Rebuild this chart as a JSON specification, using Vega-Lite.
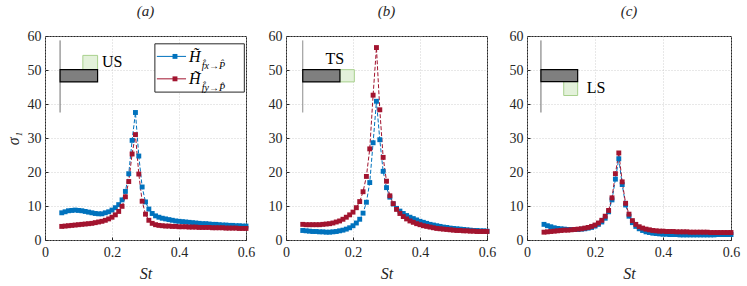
{
  "$schema": "https://vega.github.io/schema/vega-lite/v6.json",
  "padding": {"left": 4, "top": 3, "right": 8, "bottom": 2},
  "bounds": "flush",
  "spacing": 40,
  "datasets": {
    "curves": [
      {"panel":"a","series":"fx","St":0.05,"sigma":8.0},{"panel":"a","series":"fx","St":0.06,"sigma":8.3},{"panel":"a","series":"fx","St":0.07,"sigma":8.6},{"panel":"a","series":"fx","St":0.08,"sigma":8.7},{"panel":"a","series":"fx","St":0.09,"sigma":8.8},{"panel":"a","series":"fx","St":0.10,"sigma":8.7},{"panel":"a","series":"fx","St":0.11,"sigma":8.6},{"panel":"a","series":"fx","St":0.12,"sigma":8.4},{"panel":"a","series":"fx","St":0.13,"sigma":8.2},{"panel":"a","series":"fx","St":0.14,"sigma":8.0},{"panel":"a","series":"fx","St":0.15,"sigma":7.8},{"panel":"a","series":"fx","St":0.16,"sigma":7.7},{"panel":"a","series":"fx","St":0.17,"sigma":7.7},{"panel":"a","series":"fx","St":0.18,"sigma":8.0},{"panel":"a","series":"fx","St":0.19,"sigma":8.3},{"panel":"a","series":"fx","St":0.20,"sigma":8.8},{"panel":"a","series":"fx","St":0.21,"sigma":9.5},{"panel":"a","series":"fx","St":0.22,"sigma":10.4},{"panel":"a","series":"fx","St":0.23,"sigma":11.8},{"panel":"a","series":"fx","St":0.24,"sigma":14.3},{"panel":"a","series":"fx","St":0.25,"sigma":19.5},{"panel":"a","series":"fx","St":0.26,"sigma":29.3},{"panel":"a","series":"fx","St":0.27,"sigma":37.5},{"panel":"a","series":"fx","St":0.28,"sigma":24.7},{"panel":"a","series":"fx","St":0.29,"sigma":15.6},{"panel":"a","series":"fx","St":0.30,"sigma":11.2},{"panel":"a","series":"fx","St":0.31,"sigma":9.1},{"panel":"a","series":"fx","St":0.32,"sigma":7.8},{"panel":"a","series":"fx","St":0.33,"sigma":7.1},{"panel":"a","series":"fx","St":0.34,"sigma":6.7},{"panel":"a","series":"fx","St":0.35,"sigma":6.4},{"panel":"a","series":"fx","St":0.36,"sigma":6.2},{"panel":"a","series":"fx","St":0.37,"sigma":6.0},{"panel":"a","series":"fx","St":0.38,"sigma":5.8},{"panel":"a","series":"fx","St":0.39,"sigma":5.6},{"panel":"a","series":"fx","St":0.40,"sigma":5.5},{"panel":"a","series":"fx","St":0.41,"sigma":5.4},{"panel":"a","series":"fx","St":0.42,"sigma":5.3},{"panel":"a","series":"fx","St":0.43,"sigma":5.2},{"panel":"a","series":"fx","St":0.44,"sigma":5.1},{"panel":"a","series":"fx","St":0.45,"sigma":5.0},{"panel":"a","series":"fx","St":0.46,"sigma":4.9},{"panel":"a","series":"fx","St":0.47,"sigma":4.8},{"panel":"a","series":"fx","St":0.48,"sigma":4.8},{"panel":"a","series":"fx","St":0.49,"sigma":4.7},{"panel":"a","series":"fx","St":0.50,"sigma":4.6},{"panel":"a","series":"fx","St":0.51,"sigma":4.6},{"panel":"a","series":"fx","St":0.52,"sigma":4.5},{"panel":"a","series":"fx","St":0.53,"sigma":4.4},{"panel":"a","series":"fx","St":0.54,"sigma":4.4},{"panel":"a","series":"fx","St":0.55,"sigma":4.3},{"panel":"a","series":"fx","St":0.56,"sigma":4.3},{"panel":"a","series":"fx","St":0.57,"sigma":4.2},{"panel":"a","series":"fx","St":0.58,"sigma":4.2},{"panel":"a","series":"fx","St":0.59,"sigma":4.1},{"panel":"a","series":"fx","St":0.60,"sigma":4.1},
      {"panel":"a","series":"fy","St":0.05,"sigma":4.0},{"panel":"a","series":"fy","St":0.06,"sigma":4.1},{"panel":"a","series":"fy","St":0.07,"sigma":4.2},{"panel":"a","series":"fy","St":0.08,"sigma":4.3},{"panel":"a","series":"fy","St":0.09,"sigma":4.4},{"panel":"a","series":"fy","St":0.10,"sigma":4.5},{"panel":"a","series":"fy","St":0.11,"sigma":4.6},{"panel":"a","series":"fy","St":0.12,"sigma":4.7},{"panel":"a","series":"fy","St":0.13,"sigma":4.8},{"panel":"a","series":"fy","St":0.14,"sigma":4.9},{"panel":"a","series":"fy","St":0.15,"sigma":5.1},{"panel":"a","series":"fy","St":0.16,"sigma":5.3},{"panel":"a","series":"fy","St":0.17,"sigma":5.5},{"panel":"a","series":"fy","St":0.18,"sigma":5.8},{"panel":"a","series":"fy","St":0.19,"sigma":6.2},{"panel":"a","series":"fy","St":0.20,"sigma":6.7},{"panel":"a","series":"fy","St":0.21,"sigma":7.4},{"panel":"a","series":"fy","St":0.22,"sigma":8.4},{"panel":"a","series":"fy","St":0.23,"sigma":9.9},{"panel":"a","series":"fy","St":0.24,"sigma":12.7},{"panel":"a","series":"fy","St":0.25,"sigma":17.2},{"panel":"a","series":"fy","St":0.26,"sigma":25.3},{"panel":"a","series":"fy","St":0.27,"sigma":31.0},{"panel":"a","series":"fy","St":0.28,"sigma":19.4},{"panel":"a","series":"fy","St":0.29,"sigma":11.4},{"panel":"a","series":"fy","St":0.30,"sigma":7.6},{"panel":"a","series":"fy","St":0.31,"sigma":5.8},{"panel":"a","series":"fy","St":0.32,"sigma":4.9},{"panel":"a","series":"fy","St":0.33,"sigma":4.5},{"panel":"a","series":"fy","St":0.34,"sigma":4.3},{"panel":"a","series":"fy","St":0.35,"sigma":4.2},{"panel":"a","series":"fy","St":0.36,"sigma":4.1},{"panel":"a","series":"fy","St":0.37,"sigma":4.1},{"panel":"a","series":"fy","St":0.38,"sigma":4.0},{"panel":"a","series":"fy","St":0.39,"sigma":4.0},{"panel":"a","series":"fy","St":0.40,"sigma":3.9},{"panel":"a","series":"fy","St":0.41,"sigma":3.9},{"panel":"a","series":"fy","St":0.42,"sigma":3.9},{"panel":"a","series":"fy","St":0.43,"sigma":3.8},{"panel":"a","series":"fy","St":0.44,"sigma":3.8},{"panel":"a","series":"fy","St":0.45,"sigma":3.8},{"panel":"a","series":"fy","St":0.46,"sigma":3.7},{"panel":"a","series":"fy","St":0.47,"sigma":3.7},{"panel":"a","series":"fy","St":0.48,"sigma":3.7},{"panel":"a","series":"fy","St":0.49,"sigma":3.7},{"panel":"a","series":"fy","St":0.50,"sigma":3.6},{"panel":"a","series":"fy","St":0.51,"sigma":3.6},{"panel":"a","series":"fy","St":0.52,"sigma":3.6},{"panel":"a","series":"fy","St":0.53,"sigma":3.6},{"panel":"a","series":"fy","St":0.54,"sigma":3.5},{"panel":"a","series":"fy","St":0.55,"sigma":3.5},{"panel":"a","series":"fy","St":0.56,"sigma":3.5},{"panel":"a","series":"fy","St":0.57,"sigma":3.5},{"panel":"a","series":"fy","St":0.58,"sigma":3.4},{"panel":"a","series":"fy","St":0.59,"sigma":3.4},{"panel":"a","series":"fy","St":0.60,"sigma":3.4},
      {"panel":"b","series":"fx","St":0.05,"sigma":2.8},{"panel":"b","series":"fx","St":0.06,"sigma":2.7},{"panel":"b","series":"fx","St":0.07,"sigma":2.6},{"panel":"b","series":"fx","St":0.08,"sigma":2.5},{"panel":"b","series":"fx","St":0.09,"sigma":2.5},{"panel":"b","series":"fx","St":0.10,"sigma":2.4},{"panel":"b","series":"fx","St":0.11,"sigma":2.4},{"panel":"b","series":"fx","St":0.12,"sigma":2.3},{"panel":"b","series":"fx","St":0.13,"sigma":2.3},{"panel":"b","series":"fx","St":0.14,"sigma":2.4},{"panel":"b","series":"fx","St":0.15,"sigma":2.5},{"panel":"b","series":"fx","St":0.16,"sigma":2.7},{"panel":"b","series":"fx","St":0.17,"sigma":2.9},{"panel":"b","series":"fx","St":0.18,"sigma":3.2},{"panel":"b","series":"fx","St":0.19,"sigma":3.6},{"panel":"b","series":"fx","St":0.20,"sigma":4.2},{"panel":"b","series":"fx","St":0.21,"sigma":5.0},{"panel":"b","series":"fx","St":0.22,"sigma":6.1},{"panel":"b","series":"fx","St":0.23,"sigma":7.9},{"panel":"b","series":"fx","St":0.24,"sigma":11.1},{"panel":"b","series":"fx","St":0.25,"sigma":16.9},{"panel":"b","series":"fx","St":0.26,"sigma":28.6},{"panel":"b","series":"fx","St":0.27,"sigma":40.8},{"panel":"b","series":"fx","St":0.28,"sigma":29.5},{"panel":"b","series":"fx","St":0.29,"sigma":20.2},{"panel":"b","series":"fx","St":0.30,"sigma":15.4},{"panel":"b","series":"fx","St":0.31,"sigma":12.6},{"panel":"b","series":"fx","St":0.32,"sigma":10.6},{"panel":"b","series":"fx","St":0.33,"sigma":9.3},{"panel":"b","series":"fx","St":0.34,"sigma":8.5},{"panel":"b","series":"fx","St":0.35,"sigma":7.8},{"panel":"b","series":"fx","St":0.36,"sigma":7.2},{"panel":"b","series":"fx","St":0.37,"sigma":6.7},{"panel":"b","series":"fx","St":0.38,"sigma":6.3},{"panel":"b","series":"fx","St":0.39,"sigma":5.9},{"panel":"b","series":"fx","St":0.40,"sigma":5.5},{"panel":"b","series":"fx","St":0.41,"sigma":5.2},{"panel":"b","series":"fx","St":0.42,"sigma":4.9},{"panel":"b","series":"fx","St":0.43,"sigma":4.6},{"panel":"b","series":"fx","St":0.44,"sigma":4.4},{"panel":"b","series":"fx","St":0.45,"sigma":4.2},{"panel":"b","series":"fx","St":0.46,"sigma":4.0},{"panel":"b","series":"fx","St":0.47,"sigma":3.8},{"panel":"b","series":"fx","St":0.48,"sigma":3.7},{"panel":"b","series":"fx","St":0.49,"sigma":3.5},{"panel":"b","series":"fx","St":0.50,"sigma":3.4},{"panel":"b","series":"fx","St":0.51,"sigma":3.3},{"panel":"b","series":"fx","St":0.52,"sigma":3.2},{"panel":"b","series":"fx","St":0.53,"sigma":3.1},{"panel":"b","series":"fx","St":0.54,"sigma":3.0},{"panel":"b","series":"fx","St":0.55,"sigma":2.9},{"panel":"b","series":"fx","St":0.56,"sigma":2.8},{"panel":"b","series":"fx","St":0.57,"sigma":2.8},{"panel":"b","series":"fx","St":0.58,"sigma":2.7},{"panel":"b","series":"fx","St":0.59,"sigma":2.7},{"panel":"b","series":"fx","St":0.60,"sigma":2.6},
      {"panel":"b","series":"fy","St":0.05,"sigma":4.6},{"panel":"b","series":"fy","St":0.06,"sigma":4.5},{"panel":"b","series":"fy","St":0.07,"sigma":4.5},{"panel":"b","series":"fy","St":0.08,"sigma":4.5},{"panel":"b","series":"fy","St":0.09,"sigma":4.5},{"panel":"b","series":"fy","St":0.10,"sigma":4.5},{"panel":"b","series":"fy","St":0.11,"sigma":4.6},{"panel":"b","series":"fy","St":0.12,"sigma":4.7},{"panel":"b","series":"fy","St":0.13,"sigma":4.8},{"panel":"b","series":"fy","St":0.14,"sigma":5.0},{"panel":"b","series":"fy","St":0.15,"sigma":5.3},{"panel":"b","series":"fy","St":0.16,"sigma":5.6},{"panel":"b","series":"fy","St":0.17,"sigma":6.1},{"panel":"b","series":"fy","St":0.18,"sigma":6.7},{"panel":"b","series":"fy","St":0.19,"sigma":7.4},{"panel":"b","series":"fy","St":0.20,"sigma":8.2},{"panel":"b","series":"fy","St":0.21,"sigma":9.5},{"panel":"b","series":"fy","St":0.22,"sigma":11.3},{"panel":"b","series":"fy","St":0.23,"sigma":14.2},{"panel":"b","series":"fy","St":0.24,"sigma":18.7},{"panel":"b","series":"fy","St":0.25,"sigma":26.8},{"panel":"b","series":"fy","St":0.26,"sigma":42.6},{"panel":"b","series":"fy","St":0.27,"sigma":56.6},{"panel":"b","series":"fy","St":0.28,"sigma":38.3},{"panel":"b","series":"fy","St":0.29,"sigma":24.3},{"panel":"b","series":"fy","St":0.30,"sigma":17.3},{"panel":"b","series":"fy","St":0.31,"sigma":13.0},{"panel":"b","series":"fy","St":0.32,"sigma":10.7},{"panel":"b","series":"fy","St":0.33,"sigma":9.0},{"panel":"b","series":"fy","St":0.34,"sigma":7.8},{"panel":"b","series":"fy","St":0.35,"sigma":6.9},{"panel":"b","series":"fy","St":0.36,"sigma":6.2},{"panel":"b","series":"fy","St":0.37,"sigma":5.6},{"panel":"b","series":"fy","St":0.38,"sigma":5.2},{"panel":"b","series":"fy","St":0.39,"sigma":4.8},{"panel":"b","series":"fy","St":0.40,"sigma":4.5},{"panel":"b","series":"fy","St":0.41,"sigma":4.2},{"panel":"b","series":"fy","St":0.42,"sigma":4.0},{"panel":"b","series":"fy","St":0.43,"sigma":3.8},{"panel":"b","series":"fy","St":0.44,"sigma":3.6},{"panel":"b","series":"fy","St":0.45,"sigma":3.4},{"panel":"b","series":"fy","St":0.46,"sigma":3.3},{"panel":"b","series":"fy","St":0.47,"sigma":3.2},{"panel":"b","series":"fy","St":0.48,"sigma":3.1},{"panel":"b","series":"fy","St":0.49,"sigma":3.0},{"panel":"b","series":"fy","St":0.50,"sigma":2.9},{"panel":"b","series":"fy","St":0.51,"sigma":2.8},{"panel":"b","series":"fy","St":0.52,"sigma":2.8},{"panel":"b","series":"fy","St":0.53,"sigma":2.7},{"panel":"b","series":"fy","St":0.54,"sigma":2.7},{"panel":"b","series":"fy","St":0.55,"sigma":2.6},{"panel":"b","series":"fy","St":0.56,"sigma":2.6},{"panel":"b","series":"fy","St":0.57,"sigma":2.5},{"panel":"b","series":"fy","St":0.58,"sigma":2.5},{"panel":"b","series":"fy","St":0.59,"sigma":2.5},{"panel":"b","series":"fy","St":0.60,"sigma":2.5},
      {"panel":"c","series":"fx","St":0.05,"sigma":4.6},{"panel":"c","series":"fx","St":0.06,"sigma":4.2},{"panel":"c","series":"fx","St":0.07,"sigma":3.9},{"panel":"c","series":"fx","St":0.08,"sigma":3.6},{"panel":"c","series":"fx","St":0.09,"sigma":3.4},{"panel":"c","series":"fx","St":0.10,"sigma":3.3},{"panel":"c","series":"fx","St":0.11,"sigma":3.2},{"panel":"c","series":"fx","St":0.12,"sigma":3.1},{"panel":"c","series":"fx","St":0.13,"sigma":3.1},{"panel":"c","series":"fx","St":0.14,"sigma":3.1},{"panel":"c","series":"fx","St":0.15,"sigma":3.1},{"panel":"c","series":"fx","St":0.16,"sigma":3.2},{"panel":"c","series":"fx","St":0.17,"sigma":3.3},{"panel":"c","series":"fx","St":0.18,"sigma":3.5},{"panel":"c","series":"fx","St":0.19,"sigma":3.7},{"panel":"c","series":"fx","St":0.20,"sigma":4.1},{"panel":"c","series":"fx","St":0.21,"sigma":4.6},{"panel":"c","series":"fx","St":0.22,"sigma":5.3},{"panel":"c","series":"fx","St":0.23,"sigma":6.4},{"panel":"c","series":"fx","St":0.24,"sigma":8.3},{"panel":"c","series":"fx","St":0.25,"sigma":11.8},{"panel":"c","series":"fx","St":0.26,"sigma":17.9},{"panel":"c","series":"fx","St":0.27,"sigma":23.9},{"panel":"c","series":"fx","St":0.28,"sigma":16.3},{"panel":"c","series":"fx","St":0.29,"sigma":10.3},{"panel":"c","series":"fx","St":0.30,"sigma":7.0},{"panel":"c","series":"fx","St":0.31,"sigma":5.1},{"panel":"c","series":"fx","St":0.32,"sigma":4.0},{"panel":"c","series":"fx","St":0.33,"sigma":3.3},{"panel":"c","series":"fx","St":0.34,"sigma":2.8},{"panel":"c","series":"fx","St":0.35,"sigma":2.4},{"panel":"c","series":"fx","St":0.36,"sigma":2.2},{"panel":"c","series":"fx","St":0.37,"sigma":2.0},{"panel":"c","series":"fx","St":0.38,"sigma":1.9},{"panel":"c","series":"fx","St":0.39,"sigma":1.8},{"panel":"c","series":"fx","St":0.40,"sigma":1.7},{"panel":"c","series":"fx","St":0.41,"sigma":1.7},{"panel":"c","series":"fx","St":0.42,"sigma":1.6},{"panel":"c","series":"fx","St":0.43,"sigma":1.6},{"panel":"c","series":"fx","St":0.44,"sigma":1.6},{"panel":"c","series":"fx","St":0.45,"sigma":1.5},{"panel":"c","series":"fx","St":0.46,"sigma":1.5},{"panel":"c","series":"fx","St":0.47,"sigma":1.5},{"panel":"c","series":"fx","St":0.48,"sigma":1.5},{"panel":"c","series":"fx","St":0.49,"sigma":1.5},{"panel":"c","series":"fx","St":0.50,"sigma":1.5},{"panel":"c","series":"fx","St":0.51,"sigma":1.5},{"panel":"c","series":"fx","St":0.52,"sigma":1.5},{"panel":"c","series":"fx","St":0.53,"sigma":1.5},{"panel":"c","series":"fx","St":0.54,"sigma":1.5},{"panel":"c","series":"fx","St":0.55,"sigma":1.5},{"panel":"c","series":"fx","St":0.56,"sigma":1.6},{"panel":"c","series":"fx","St":0.57,"sigma":1.6},{"panel":"c","series":"fx","St":0.58,"sigma":1.6},{"panel":"c","series":"fx","St":0.59,"sigma":1.6},{"panel":"c","series":"fx","St":0.60,"sigma":1.6},
      {"panel":"c","series":"fy","St":0.05,"sigma":2.3},{"panel":"c","series":"fy","St":0.06,"sigma":2.4},{"panel":"c","series":"fy","St":0.07,"sigma":2.5},{"panel":"c","series":"fy","St":0.08,"sigma":2.6},{"panel":"c","series":"fy","St":0.09,"sigma":2.7},{"panel":"c","series":"fy","St":0.10,"sigma":2.8},{"panel":"c","series":"fy","St":0.11,"sigma":2.9},{"panel":"c","series":"fy","St":0.12,"sigma":2.9},{"panel":"c","series":"fy","St":0.13,"sigma":3.0},{"panel":"c","series":"fy","St":0.14,"sigma":3.1},{"panel":"c","series":"fy","St":0.15,"sigma":3.2},{"panel":"c","series":"fy","St":0.16,"sigma":3.3},{"panel":"c","series":"fy","St":0.17,"sigma":3.5},{"panel":"c","series":"fy","St":0.18,"sigma":3.7},{"panel":"c","series":"fy","St":0.19,"sigma":4.0},{"panel":"c","series":"fy","St":0.20,"sigma":4.4},{"panel":"c","series":"fy","St":0.21,"sigma":5.0},{"panel":"c","series":"fy","St":0.22,"sigma":5.8},{"panel":"c","series":"fy","St":0.23,"sigma":7.0},{"panel":"c","series":"fy","St":0.24,"sigma":8.7},{"panel":"c","series":"fy","St":0.25,"sigma":12.4},{"panel":"c","series":"fy","St":0.26,"sigma":19.5},{"panel":"c","series":"fy","St":0.27,"sigma":25.6},{"panel":"c","series":"fy","St":0.28,"sigma":17.1},{"panel":"c","series":"fy","St":0.29,"sigma":10.8},{"panel":"c","series":"fy","St":0.30,"sigma":7.6},{"panel":"c","series":"fy","St":0.31,"sigma":5.7},{"panel":"c","series":"fy","St":0.32,"sigma":4.6},{"panel":"c","series":"fy","St":0.33,"sigma":3.9},{"panel":"c","series":"fy","St":0.34,"sigma":3.5},{"panel":"c","series":"fy","St":0.35,"sigma":3.2},{"panel":"c","series":"fy","St":0.36,"sigma":3.0},{"panel":"c","series":"fy","St":0.37,"sigma":2.8},{"panel":"c","series":"fy","St":0.38,"sigma":2.7},{"panel":"c","series":"fy","St":0.39,"sigma":2.6},{"panel":"c","series":"fy","St":0.40,"sigma":2.6},{"panel":"c","series":"fy","St":0.41,"sigma":2.5},{"panel":"c","series":"fy","St":0.42,"sigma":2.5},{"panel":"c","series":"fy","St":0.43,"sigma":2.5},{"panel":"c","series":"fy","St":0.44,"sigma":2.4},{"panel":"c","series":"fy","St":0.45,"sigma":2.4},{"panel":"c","series":"fy","St":0.46,"sigma":2.4},{"panel":"c","series":"fy","St":0.47,"sigma":2.4},{"panel":"c","series":"fy","St":0.48,"sigma":2.3},{"panel":"c","series":"fy","St":0.49,"sigma":2.3},{"panel":"c","series":"fy","St":0.50,"sigma":2.3},{"panel":"c","series":"fy","St":0.51,"sigma":2.3},{"panel":"c","series":"fy","St":0.52,"sigma":2.3},{"panel":"c","series":"fy","St":0.53,"sigma":2.3},{"panel":"c","series":"fy","St":0.54,"sigma":2.2},{"panel":"c","series":"fy","St":0.55,"sigma":2.2},{"panel":"c","series":"fy","St":0.56,"sigma":2.2},{"panel":"c","series":"fy","St":0.57,"sigma":2.2},{"panel":"c","series":"fy","St":0.58,"sigma":2.2},{"panel":"c","series":"fy","St":0.59,"sigma":2.2},{"panel":"c","series":"fy","St":0.60,"sigma":2.2}
    ],
    "inset": [
      {"panel":"a","part":"stem","St":0.045,"sigma":37.5,"sigma2":58.7},
      {"panel":"a","part":"plate","St":0.045,"St2":0.157,"sigma":46.5,"sigma2":50.1},
      {"panel":"a","part":"flap","St":0.113,"St2":0.157,"sigma":50.1,"sigma2":54.3},
      {"panel":"a","part":"label","St":0.17,"sigma":52.3,"text":"US"},
      {"panel":"b","part":"stem","St":0.05,"sigma":37.5,"sigma2":58.7},
      {"panel":"b","part":"plate","St":0.05,"St2":0.161,"sigma":46.5,"sigma2":50.1},
      {"panel":"b","part":"flap","St":0.161,"St2":0.204,"sigma":46.5,"sigma2":50.1},
      {"panel":"b","part":"label","St":0.118,"sigma":53.2,"text":"TS"},
      {"panel":"c","part":"stem","St":0.041,"sigma":37.5,"sigma2":58.7},
      {"panel":"c","part":"plate","St":0.041,"St2":0.149,"sigma":46.6,"sigma2":50.1},
      {"panel":"c","part":"flap","St":0.108,"St2":0.149,"sigma":42.5,"sigma2":46.6},
      {"panel":"c","part":"label","St":0.176,"sigma":44.7,"text":"LS"}
    ],
    "legendbox": [
      {"St":0.328,"St2":0.595,"sigma":43.5,"sigma2":57.7}
    ],
    "legend": [
      {"series":"fx","St":0.334,"St2":0.421,"mark":0.388,"sigma":54.0,"tx":0.43,"ty":52.4,"sx":0.468,"sy":50.3,"main":"H\u0303","sub":"f\u0302x\u2192P\u0302"},
      {"series":"fy","St":0.334,"St2":0.421,"mark":0.388,"sigma":47.4,"tx":0.43,"ty":45.8,"sx":0.468,"sy":43.7,"main":"H\u0303","sub":"f\u0302y\u2192P\u0302"}
    ]
  },
  "config": {
    "view": {"stroke": "#262626", "strokeWidth": 1}
  },
  "hconcat": [
    {
      "width": 201, "height": 204,
      "title": {"text": "(a)", "font": "Liberation Serif", "fontSize": 15, "fontStyle": "italic", "fontWeight": "normal", "color": "#262626", "offset": 10},
      "layer": [
        {"data": {"name": "curves"}, "transform": [{"filter": "datum.panel === 'a'"}],
         "mark": {"type": "line", "strokeWidth": 1, "strokeDash": [4, 2]},
         "encoding": {
           "x": {"field": "St", "type": "quantitative", "title": "St", "scale": {"domain": [0, 0.6]}, "axis": {"values": [0, 0.2, 0.4, 0.6], "tickCount": 20, "format": "~g", "labelFlush": false, "labelOverlap": false, "labelFont": "Liberation Serif", "labelFontSize": 14, "labelColor": "#262626", "labelPadding": 8, "titleFont": "Liberation Serif", "titleFontSize": 16, "titleFontStyle": "italic", "titleFontWeight": "normal", "titleColor": "#262626", "titlePadding": 6, "domain": false, "grid": true, "gridColor": "#c4c4c4", "gridDash": [1, 2], "gridWidth": 0.8, "tickSize": -3, "tickColor": "#262626"}},
           "y": {"field": "sigma", "type": "quantitative", "title": "σ₁", "scale": {"domain": [0, 60]}, "axis": {"values": [0, 10, 20, 30, 40, 50, 60], "tickCount": 20, "labelFlush": false, "labelOverlap": false, "labelFont": "Liberation Serif", "labelFontSize": 14, "labelColor": "#262626", "labelPadding": 7, "titleFont": "Liberation Serif", "titleFontSize": 16, "titleFontStyle": "italic", "titleFontWeight": "normal", "titleColor": "#262626", "titlePadding": 6, "domain": false, "grid": true, "gridColor": "#c4c4c4", "gridDash": [1, 2], "gridWidth": 0.8, "tickSize": -3, "tickColor": "#262626"}},
           "color": {"field": "series", "type": "nominal", "scale": {"domain": ["fx", "fy"], "range": ["#0072BD", "#A2142F"]}, "legend": null}}},
        {"data": {"name": "curves"}, "transform": [{"filter": "datum.panel === 'a'"}],
         "mark": {"type": "point", "shape": "square", "filled": true, "size": 24, "opacity": 1},
         "encoding": {
           "x": {"field": "St", "type": "quantitative", "title": "St"},
           "y": {"field": "sigma", "type": "quantitative", "title": "σ₁"},
           "color": {"field": "series", "type": "nominal", "legend": null}}},
        {"data": {"name": "inset"}, "transform": [{"filter": "datum.panel === 'a' && datum.part === 'stem'"}],
         "mark": {"type": "rule", "color": "#6e6e6e", "strokeWidth": 1},
         "encoding": {"x": {"field": "St", "type": "quantitative", "title": "St"}, "y": {"field": "sigma", "type": "quantitative", "title": "σ₁"}, "y2": {"field": "sigma2"}}},
        {"data": {"name": "inset"}, "transform": [{"filter": "datum.panel === 'a' && datum.part === 'flap'"}],
         "mark": {"type": "rect", "fill": "#e3f1da", "stroke": "#a8d08d", "strokeWidth": 1},
         "encoding": {"x": {"field": "St", "type": "quantitative", "title": "St"}, "x2": {"field": "St2"}, "y": {"field": "sigma", "type": "quantitative", "title": "σ₁"}, "y2": {"field": "sigma2"}}},
        {"data": {"name": "inset"}, "transform": [{"filter": "datum.panel === 'a' && datum.part === 'plate'"}],
         "mark": {"type": "rect", "fill": "#7f7f7f", "stroke": "#000000", "strokeWidth": 1.2},
         "encoding": {"x": {"field": "St", "type": "quantitative", "title": "St"}, "x2": {"field": "St2"}, "y": {"field": "sigma", "type": "quantitative", "title": "σ₁"}, "y2": {"field": "sigma2"}}},
        {"data": {"name": "inset"}, "transform": [{"filter": "datum.panel === 'a' && datum.part === 'label'"}],
         "mark": {"type": "text", "align": "left", "baseline": "middle", "font": "Liberation Serif", "fontSize": 16, "color": "#000000"},
         "encoding": {"x": {"field": "St", "type": "quantitative", "title": "St"}, "y": {"field": "sigma", "type": "quantitative", "title": "σ₁"}, "text": {"field": "text"}}},
        {"data": {"name": "legendbox"},
         "mark": {"type": "rect", "fill": "#ffffff", "stroke": "#262626", "strokeWidth": 1},
         "encoding": {"x": {"field": "St", "type": "quantitative", "title": "St"}, "x2": {"field": "St2"}, "y": {"field": "sigma", "type": "quantitative", "title": "σ₁"}, "y2": {"field": "sigma2"}}},
        {"data": {"name": "legend"},
         "mark": {"type": "rule", "strokeWidth": 1},
         "encoding": {"x": {"field": "St", "type": "quantitative", "title": "St"}, "x2": {"field": "St2"}, "y": {"field": "sigma", "type": "quantitative", "title": "σ₁"}, "color": {"field": "series", "type": "nominal", "legend": null}}},
        {"data": {"name": "legend"},
         "mark": {"type": "point", "shape": "square", "filled": true, "size": 24, "opacity": 1},
         "encoding": {"x": {"field": "mark", "type": "quantitative", "title": "St"}, "y": {"field": "sigma", "type": "quantitative", "title": "σ₁"}, "color": {"field": "series", "type": "nominal", "legend": null}}},
        {"data": {"name": "legend"},
         "mark": {"type": "text", "align": "left", "baseline": "alphabetic", "font": "Liberation Serif", "fontSize": 16, "fontStyle": "italic", "color": "#000000"},
         "encoding": {"x": {"field": "tx", "type": "quantitative", "title": "St"}, "y": {"field": "ty", "type": "quantitative", "title": "σ₁"}, "text": {"field": "main"}}},
        {"data": {"name": "legend"},
         "mark": {"type": "text", "align": "left", "baseline": "alphabetic", "font": "Liberation Serif", "fontSize": 10, "fontStyle": "italic", "color": "#000000"},
         "encoding": {"x": {"field": "sx", "type": "quantitative", "title": "St"}, "y": {"field": "sy", "type": "quantitative", "title": "σ₁"}, "text": {"field": "sub"}}}
      ]
    },
    {
      "width": 201, "height": 204,
      "title": {"text": "(b)", "font": "Liberation Serif", "fontSize": 15, "fontStyle": "italic", "fontWeight": "normal", "color": "#262626", "offset": 10},
      "layer": [
        {"data": {"name": "curves"}, "transform": [{"filter": "datum.panel === 'b'"}],
         "mark": {"type": "line", "strokeWidth": 1, "strokeDash": [4, 2]},
         "encoding": {
           "x": {"field": "St", "type": "quantitative", "title": "St", "scale": {"domain": [0, 0.6]}, "axis": {"values": [0, 0.2, 0.4, 0.6], "tickCount": 20, "format": "~g", "labelFlush": false, "labelOverlap": false, "labelFont": "Liberation Serif", "labelFontSize": 14, "labelColor": "#262626", "labelPadding": 8, "titleFont": "Liberation Serif", "titleFontSize": 16, "titleFontStyle": "italic", "titleFontWeight": "normal", "titleColor": "#262626", "titlePadding": 6, "domain": false, "grid": true, "gridColor": "#c4c4c4", "gridDash": [1, 2], "gridWidth": 0.8, "tickSize": -3, "tickColor": "#262626"}},
           "y": {"field": "sigma", "type": "quantitative", "title": null, "scale": {"domain": [0, 60]}, "axis": {"values": [0, 10, 20, 30, 40, 50, 60], "tickCount": 20, "labelFlush": false, "labelOverlap": false, "labelFont": "Liberation Serif", "labelFontSize": 14, "labelColor": "#262626", "labelPadding": 7, "domain": false, "grid": true, "gridColor": "#c4c4c4", "gridDash": [1, 2], "gridWidth": 0.8, "tickSize": -3, "tickColor": "#262626"}},
           "color": {"field": "series", "type": "nominal", "scale": {"domain": ["fx", "fy"], "range": ["#0072BD", "#A2142F"]}, "legend": null}}},
        {"data": {"name": "curves"}, "transform": [{"filter": "datum.panel === 'b'"}],
         "mark": {"type": "point", "shape": "square", "filled": true, "size": 24, "opacity": 1},
         "encoding": {
           "x": {"field": "St", "type": "quantitative", "title": "St"},
           "y": {"field": "sigma", "type": "quantitative", "title": null},
           "color": {"field": "series", "type": "nominal", "legend": null}}},
        {"data": {"name": "inset"}, "transform": [{"filter": "datum.panel === 'b' && datum.part === 'stem'"}],
         "mark": {"type": "rule", "color": "#8c8c8c", "strokeWidth": 1},
         "encoding": {"x": {"field": "St", "type": "quantitative", "title": "St"}, "y": {"field": "sigma", "type": "quantitative", "title": null}, "y2": {"field": "sigma2"}}},
        {"data": {"name": "inset"}, "transform": [{"filter": "datum.panel === 'b' && datum.part === 'flap'"}],
         "mark": {"type": "rect", "fill": "#e3f1da", "stroke": "#a8d08d", "strokeWidth": 1},
         "encoding": {"x": {"field": "St", "type": "quantitative", "title": "St"}, "x2": {"field": "St2"}, "y": {"field": "sigma", "type": "quantitative", "title": null}, "y2": {"field": "sigma2"}}},
        {"data": {"name": "inset"}, "transform": [{"filter": "datum.panel === 'b' && datum.part === 'plate'"}],
         "mark": {"type": "rect", "fill": "#7f7f7f", "stroke": "#000000", "strokeWidth": 1.2},
         "encoding": {"x": {"field": "St", "type": "quantitative", "title": "St"}, "x2": {"field": "St2"}, "y": {"field": "sigma", "type": "quantitative", "title": null}, "y2": {"field": "sigma2"}}},
        {"data": {"name": "inset"}, "transform": [{"filter": "datum.panel === 'b' && datum.part === 'label'"}],
         "mark": {"type": "text", "align": "left", "baseline": "middle", "font": "Liberation Serif", "fontSize": 16, "color": "#000000"},
         "encoding": {"x": {"field": "St", "type": "quantitative", "title": "St"}, "y": {"field": "sigma", "type": "quantitative", "title": null}, "text": {"field": "text"}}}
      ]
    },
    {
      "width": 204, "height": 204,
      "title": {"text": "(c)", "font": "Liberation Serif", "fontSize": 15, "fontStyle": "italic", "fontWeight": "normal", "color": "#262626", "offset": 10},
      "layer": [
        {"data": {"name": "curves"}, "transform": [{"filter": "datum.panel === 'c'"}],
         "mark": {"type": "line", "strokeWidth": 1, "strokeDash": [4, 2]},
         "encoding": {
           "x": {"field": "St", "type": "quantitative", "title": "St", "scale": {"domain": [0, 0.6]}, "axis": {"values": [0, 0.2, 0.4, 0.6], "tickCount": 20, "format": "~g", "labelFlush": false, "labelOverlap": false, "labelFont": "Liberation Serif", "labelFontSize": 14, "labelColor": "#262626", "labelPadding": 8, "titleFont": "Liberation Serif", "titleFontSize": 16, "titleFontStyle": "italic", "titleFontWeight": "normal", "titleColor": "#262626", "titlePadding": 6, "domain": false, "grid": true, "gridColor": "#c4c4c4", "gridDash": [1, 2], "gridWidth": 0.8, "tickSize": -3, "tickColor": "#262626"}},
           "y": {"field": "sigma", "type": "quantitative", "title": null, "scale": {"domain": [0, 60]}, "axis": {"values": [0, 10, 20, 30, 40, 50, 60], "tickCount": 20, "labelFlush": false, "labelOverlap": false, "labelFont": "Liberation Serif", "labelFontSize": 14, "labelColor": "#262626", "labelPadding": 7, "domain": false, "grid": true, "gridColor": "#c4c4c4", "gridDash": [1, 2], "gridWidth": 0.8, "tickSize": -3, "tickColor": "#262626"}},
           "color": {"field": "series", "type": "nominal", "scale": {"domain": ["fx", "fy"], "range": ["#0072BD", "#A2142F"]}, "legend": null}}},
        {"data": {"name": "curves"}, "transform": [{"filter": "datum.panel === 'c'"}],
         "mark": {"type": "point", "shape": "square", "filled": true, "size": 24, "opacity": 1},
         "encoding": {
           "x": {"field": "St", "type": "quantitative", "title": "St"},
           "y": {"field": "sigma", "type": "quantitative", "title": null},
           "color": {"field": "series", "type": "nominal", "legend": null}}},
        {"data": {"name": "inset"}, "transform": [{"filter": "datum.panel === 'c' && datum.part === 'stem'"}],
         "mark": {"type": "rule", "color": "#6e6e6e", "strokeWidth": 1},
         "encoding": {"x": {"field": "St", "type": "quantitative", "title": "St"}, "y": {"field": "sigma", "type": "quantitative", "title": null}, "y2": {"field": "sigma2"}}},
        {"data": {"name": "inset"}, "transform": [{"filter": "datum.panel === 'c' && datum.part === 'flap'"}],
         "mark": {"type": "rect", "fill": "#e3f1da", "stroke": "#a8d08d", "strokeWidth": 1},
         "encoding": {"x": {"field": "St", "type": "quantitative", "title": "St"}, "x2": {"field": "St2"}, "y": {"field": "sigma", "type": "quantitative", "title": null}, "y2": {"field": "sigma2"}}},
        {"data": {"name": "inset"}, "transform": [{"filter": "datum.panel === 'c' && datum.part === 'plate'"}],
         "mark": {"type": "rect", "fill": "#7f7f7f", "stroke": "#000000", "strokeWidth": 1.2},
         "encoding": {"x": {"field": "St", "type": "quantitative", "title": "St"}, "x2": {"field": "St2"}, "y": {"field": "sigma", "type": "quantitative", "title": null}, "y2": {"field": "sigma2"}}},
        {"data": {"name": "inset"}, "transform": [{"filter": "datum.panel === 'c' && datum.part === 'label'"}],
         "mark": {"type": "text", "align": "left", "baseline": "middle", "font": "Liberation Serif", "fontSize": 16, "color": "#000000"},
         "encoding": {"x": {"field": "St", "type": "quantitative", "title": "St"}, "y": {"field": "sigma", "type": "quantitative", "title": null}, "text": {"field": "text"}}}
      ]
    }
  ]
}
